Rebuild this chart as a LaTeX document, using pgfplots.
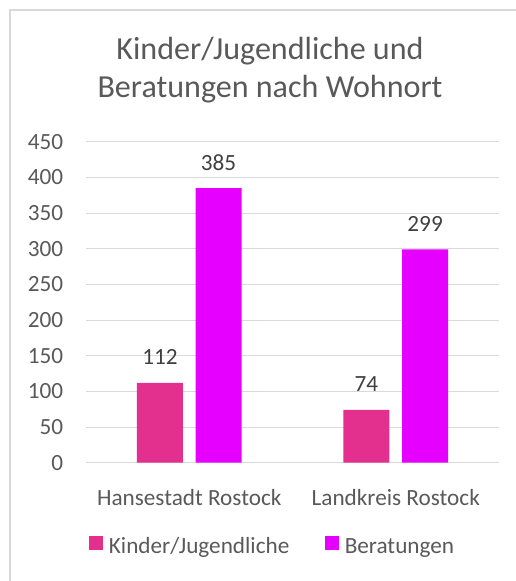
\documentclass[border=0pt]{standalone}
\usepackage{fontspec}
\setmainfont{Carlito}
\usepackage{pgfplots}
\pgfplotsset{compat=1.18}
\definecolor{kinder}{RGB}{227,48,142}
\definecolor{berat}{RGB}{230,0,255}
\definecolor{txt}{RGB}{89,89,89}
\definecolor{lbl}{RGB}{64,64,64}
\definecolor{grd}{RGB}{217,217,217}
\begin{document}
\begin{tikzpicture}[x=1bp,y=1bp]
\useasboundingbox (0,0) rectangle (516,581);
\draw[grd, line width=1.5bp] (10,0) -- (10,571) -- (516,571);
\begin{axis}[
  at={(86bp,118.3bp)}, anchor=south west,
  scale only axis, width=413bp, height=321bp,
  ymin=0, ymax=450, ytick={0,50,...,450},
  xmin=-0.5, xmax=1.5, xtick={0,1},
  xticklabels={Hansestadt Rostock, Landkreis Rostock},
  axis line style={draw=none}, tick style={draw=none},
  ymajorgrids, grid style={grd, line width=1bp},
  ybar=12.7bp, bar width=46bp,
  /pgf/number format/assume math mode=true,
  tick label style={font=\fontsize{23.3}{28}\selectfont, text=txt, inner sep=0pt},
  yticklabel style={font=\fontsize{23.3}{28}\selectfont, anchor=east, xshift=-22.7bp},
  xticklabel style={font=\fontsize{23.3}{28}\selectfont, anchor=base, yshift=-39bp},
  title={Kinder/Jugendliche und\\Beratungen nach Wohnort},
  title style={at={(0.4455,1.308)}, anchor=north, inner sep=0pt, align=center,
    font=\fontsize{32.2}{38.3}\selectfont, text=txt},
  nodes near coords,
  nodes near coords style={font=\fontsize{23.3}{28}\selectfont, text=lbl, anchor=base, yshift=18bp, inner sep=0pt},
  legend columns=2,
  legend image code/.code={\fill[#1] (0bp,-3.5bp) rectangle (13.7bp,10.2bp);},
  legend style={at={(0.00726,-0.229)}, anchor=north west, draw=none, fill=none, inner sep=0pt,
    font=\fontsize{23.3}{28}\selectfont, text=txt, nodes={inner sep=0pt},
    /tikz/every odd column/.style={column sep=6bp},
    /tikz/every even column/.style={column sep=35.7bp}},
]
\addplot[fill=kinder, draw=none] coordinates {(0,112) (1,74)};
\addlegendentry{Kinder/Jugendliche}
\addplot[fill=berat, draw=none] coordinates {(0,385) (1,299)};
\addlegendentry{Beratungen}
\end{axis}
\end{tikzpicture}
\end{document}
